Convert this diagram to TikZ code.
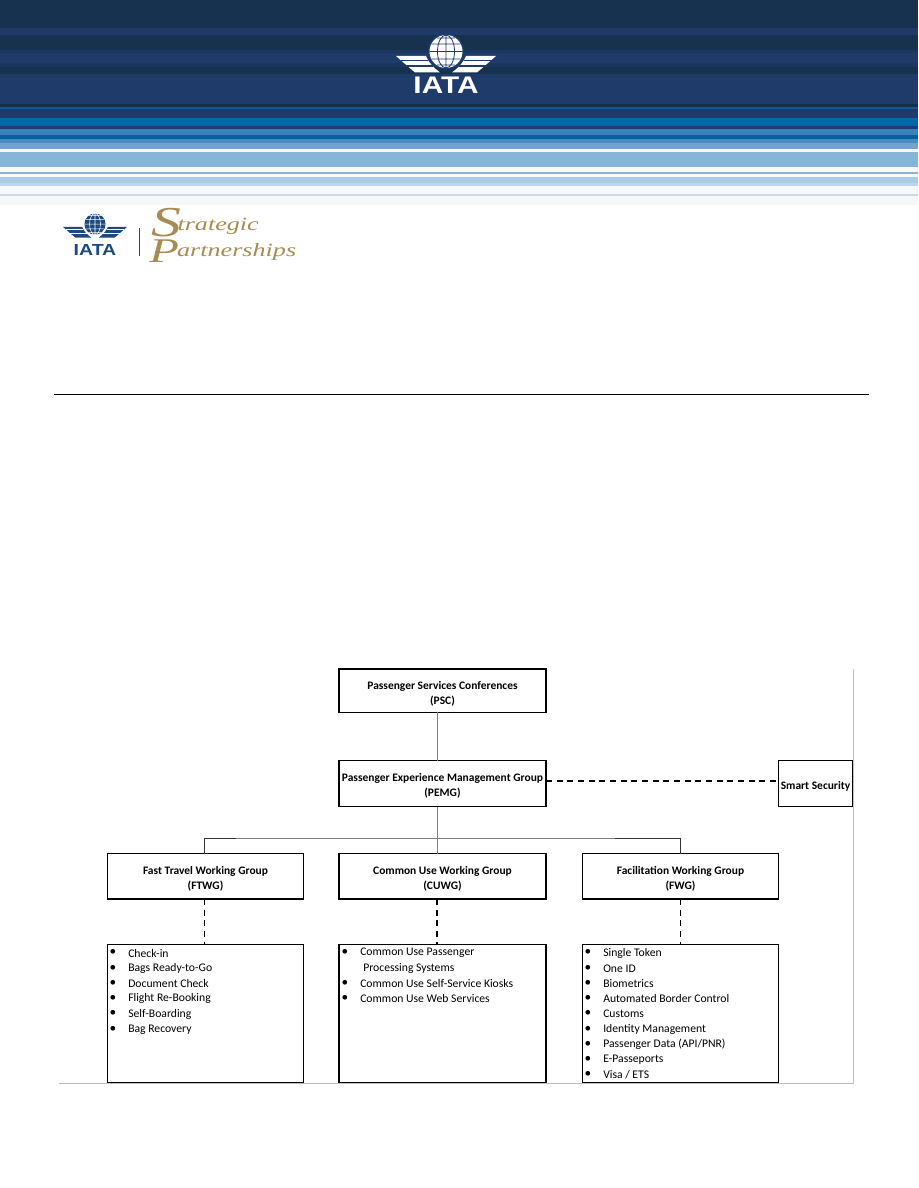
\documentclass[tikz,border=0pt]{standalone}
\usepackage{fontspec}
\setmainfont{Carlito}
\newfontfamily\logofont{Liberation Sans}
\newfontfamily\goldfont{Liberation Serif}
\definecolor{gold}{HTML}{A68C52}
\definecolor{navy}{HTML}{1B4A80}
\definecolor{bandblue}{HTML}{1F3B6A}
\definecolor{frameg}{HTML}{BEBEBE}
\definecolor{lineg}{HTML}{808080}
\newcommand{\toppad}{\rule{0pt}{10pt}}
\tikzset{
  box/.style={draw=black,line width=1.3pt,fill=white,inner sep=0pt,outer sep=0pt,align=center,font=\fontsize{8.6}{11.25}\selectfont\bfseries,anchor=north west},
  itemt/.style={inner sep=0pt,anchor=west,font=\fontsize{8.75}{10}\selectfont},
  bult/.style={inner sep=0pt,anchor=center,font=\fontsize{10}{10}\selectfont},
  dashline/.style={draw=black,line width=1.2pt,dash pattern=on 4.5pt off 3.5pt},
  greyline/.style={draw=lineg,line width=.75pt},
  darkline/.style={draw=black!80,line width=.75pt},
  goldtext/.style={inner sep=0pt,anchor=base west,text=gold,xscale=1.4,transform shape,font=\fontsize{14}{14}\goldfont\itshape},
}
% logo: centre x, top y, scale, foreground, background
\newcommand{\iatamark}[5]{%
  \begin{scope}[shift={(#1,#2)},x=#3*.75pt,y=-#3*.75pt]
    \foreach \s in {-1,1}{
      \fill[#4] (\s*50,21) -- (\s*20,21) .. controls (\s*18,27) and (\s*12,33) .. (\s*6,37.5) -- (\s*31,37.5) -- cycle;
      \draw[#5,line width=#3*.9pt] (\s*46,25.5) -- (\s*18,25.5) (\s*40,31) -- (\s*13,31);
    }
    \fill[#5] (0,16.5) circle [radius=18.2];
    \fill[#4] (0,16.5) circle [radius=16.5];
    \draw[#5,line width=#3*.6pt]
      (-16.5,16.5) -- (16.5,16.5) (-14.5,9) -- (14.5,9) (-14.5,24) -- (14.5,24) (-9,3) -- (9,3) (-9,30) -- (9,30)
      (0,0) -- (0,33) (0,16.5) ellipse [x radius=8.5, y radius=16.5];
  \end{scope}}
\begin{document}
\begin{tikzpicture}[x=.75pt,y=-.75pt]
\useasboundingbox (0,0) rectangle (918,1188);
\fill[white] (0,0) rectangle (918,1188);
% header bands
\foreach \a/\b/\c in {0/28/17324F,28/35/1F3B6A,35/50/17324F,50/53/1B3760,53/63/1F3B6A,63/67/1B3760,67/74/17324F,74/104/1F3B6A,104/107/14304A,107/109/0F5A96,109/118/1F3B6A,118/126/0468A8,126/129/1A3F70,129/135/3B82B8,135/139/04609F,139/143/4A8CC0,143/149/74A2CE,149/152/F4F7FA,152/167/85B5D9,167/172/F8F9FA,172/174/8FB0D0,174/177/F8F9FA,177/183/AACCE6,183/186/C0D5E8,186/194/F8F9FA,194/196/C5DAEC,196/205/F7F8F8}{
  \definecolor{cur}{HTML}{\c}
  \fill[cur] (0,\a) rectangle (918,\b);
}
% main logo
\iatamark{446}{35}{1}{white}{bandblue}
\node[inner sep=0pt,text=white,xscale=1.24,transform shape,font=\fontsize{18}{18}\logofont\bfseries] (logoa) at (446,85) {IATA};
% small logo
\iatamark{95}{213.5}{.64}{navy}{white}
\node[inner sep=0pt,text=navy,xscale=1.22,transform shape,font=\fontsize{12}{12}\logofont\bfseries] (logob) at (95,249.5) {IATA};
\draw[navy,line width=.6pt] (139,228) -- (139,256);
\node[goldtext] (stra) at (151,230) {\raisebox{-5pt}{\fontsize{32}{32}\selectfont S}\kern-2pt trategic};
\node[goldtext] (part) at (149,256) {\raisebox{-5pt}{\fontsize{26}{26}\selectfont P}\kern-1pt artnerships};
% rule
\draw[black,line width=.75pt] (54,394) -- (869,394);
% frame
\draw[frameg,line width=.75pt] (853,669) -- (853,1083) -- (59,1083);
% boxes
\node[box,minimum width=155.25pt,minimum height=32.6pt] (psc) at (339,669) {\toppad Passenger Services Conferences\\(PSC)};
\node[box,minimum width=155.25pt,minimum height=34.5pt] (pemg) at (339,760.5) {\toppad Passenger Experience Management Group\\(PEMG)};
\node[box,minimum width=55.5pt,minimum height=34.5pt] (smart) at (778.5,760.5) {\toppad Smart Security};
\node[box,minimum width=147pt,minimum height=34.1pt] (ftwg) at (107.5,853.5) {\toppad Fast Travel Working Group\\(FTWG)};
\node[box,minimum width=155.25pt,minimum height=34.1pt] (cuwg) at (339,853.5) {\toppad Common Use Working Group\\(CUWG)};
\node[box,minimum width=147pt,minimum height=34.1pt] (fwg) at (582.5,853.5) {\toppad Facilitation Working Group\\(FWG)};
\node[box,minimum width=147pt,minimum height=103.5pt] (ftl) at (107.5,944.5) {};
\node[box,minimum width=155.25pt,minimum height=103.5pt] (cul) at (339,944.5) {};
\node[box,minimum width=147pt,minimum height=103.5pt] (fwl) at (582.5,944.5) {};
% connectors
\coordinate (trunk) at (437,838);
\coordinate (busl) at (236,838);
\coordinate (busr) at (615,838);
\coordinate (dropf) at (204.5,838);
\coordinate (dropw) at (680.5,838);
\coordinate (dashy) at (600,781);
\draw[greyline] (psc.south -| trunk) -- (pemg.north -| trunk);
\draw[greyline] (pemg.south -| trunk) -- (cuwg.north -| trunk);
\draw[darkline] (ftwg.north -| dropf) |- (busl);
\draw[greyline] (busl) -- (busr);
\draw[darkline] (busr) -| (fwg.north -| dropw);
\draw[dashline] (pemg.east |- dashy) -- (smart.west |- dashy);
\draw[dashline] (ftwg.south -| dropf) -- (ftl.north -| dropf);
\draw[dashline] (cuwg.south -| trunk) -- (cul.north -| trunk);
\draw[dashline] (fwg.south -| dropw) -- (fwl.north -| dropw);
% lists
\foreach \t [count=\i from 0] in {Check-in,Bags Ready-to-Go,Document Check,Flight Re-Booking,Self-Boarding,Bag Recovery}{
  \node[bult] (ftb\i) at (113,952.7+15.25*\i) {•};
  \node[itemt] (ftt\i) at (128,953+15.25*\i) {\t};
}
\node[bult] (cub0) at (345,952.7) {•};
\node[itemt] (cut0) at (360,953) {Common Use Passenger};
\node[itemt] (cut1) at (363,968.3) {Processing Systems};
\node[bult] (cub2) at (345,983.2) {•};
\node[itemt] (cut2) at (360,983.5) {Common Use Self-Service Kiosks};
\node[bult] (cub3) at (345,998.5) {•};
\node[itemt] (cut3) at (360,998.8) {Common Use Web Services};
\foreach \t [count=\i from 0] in {Single Token,One ID,Biometrics,Automated Border Control,Customs,Identity Management,Passenger Data (API/PNR),E-Passeports,Visa / ETS}{
  \node[bult] (fwb\i) at (588,952.7+15.25*\i) {•};
  \node[itemt] (fwt\i) at (603,953+15.25*\i) {\t};
}
\end{tikzpicture}
\end{document}
